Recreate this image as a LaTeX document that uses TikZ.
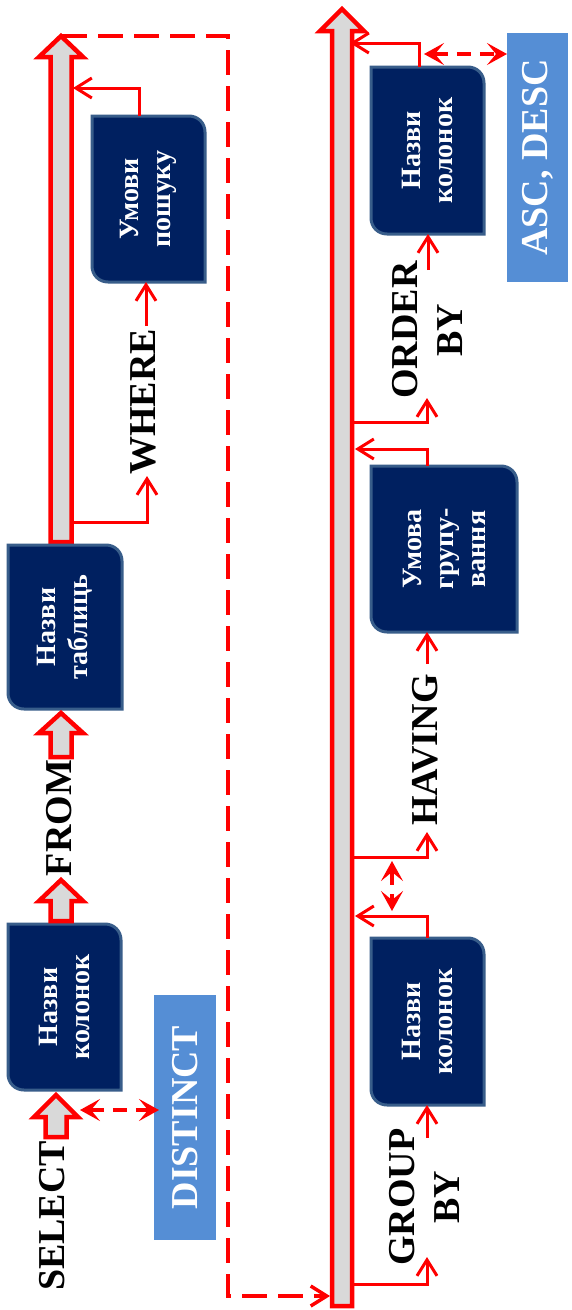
\documentclass[tikz,border=0pt]{standalone}
\usepackage{fontspec}
\setmainfont{Liberation Serif}
\usetikzlibrary{arrows.meta,calc,fit}
\definecolor{navy}{HTML}{002060}
\definecolor{navyedge}{HTML}{385D8A}
\definecolor{skyb}{HTML}{558ED5}
\definecolor{barfill}{HTML}{D9D9D9}
\definecolor{myred}{HTML}{FF0000}
% block (hollow) arrow pointing up: cx, tip y, head base y, bottom y, head half width, body half width
\newcommand\blockarr[6]{%
  \draw[barline] (#1,#2) -- ({#1+#5},#3) -- ({#1+#6},#3) -- ({#1+#6},#4) -- ({#1-#6},#4) -- ({#1-#6},#3) -- ({#1-#5},#3) -- cycle;}
% dark box with two diagonal rounded corners: name, x1,y1,x2,y2,text
\newcommand\dgbox[6]{%
  \draw[boxline] (#2,#3) -- ({#4-16},#3) .. controls ({#4-7},#3) and (#4,{#3+7}) .. (#4,{#3+16}) -- (#4,#5) -- ({#2+16},#5) .. controls ({#2+7},#5) and (#2,{#5-7}) .. (#2,{#5-16}) -- cycle;
  \node[frame, fit={(#2,#3) (#4,#5)}] (#1) {};
  \node[btext] (#1-t) at (#1.center) {#6};}
\begin{document}
\begin{tikzpicture}[x=1pt,y=-1pt,
  conn/.style={draw=myred, line width=3pt, -{Straight Barb[length=16pt,width=20pt]}},
  dashdbl/.style={draw=myred, line width=3.5pt, dash pattern=on 14pt off 9pt,
     {Stealth[length=20pt,width=22pt,inset=9pt]}-{Stealth[length=20pt,width=22pt,inset=9pt]}},
  longdash/.style={draw=myred, line width=3.5pt, dash pattern=on 25pt off 11pt,
     -{Straight Barb[length=16pt,width=20pt]}},
  barline/.style={draw=myred, fill=barfill, line width=4.5pt, line join=miter},
  boxline/.style={draw=navyedge, fill=navy, line width=3pt},
  kw/.style={font=\fontsize{38}{45}\selectfont\bfseries, inner sep=0pt, align=center, rotate=90},
  btext/.style={font=\fontsize{28}{32}\selectfont\bfseries, text=white, inner sep=0pt, align=center, rotate=90},
  frame/.style={inner sep=0pt, outer sep=0pt},
  lbox/.style={inner sep=0pt, outer sep=0pt, fill=skyb},
  ltext/.style={font=\fontsize{38}{44}\selectfont\bfseries, text=white, inner sep=0pt, rotate=90}
]
\fill[white] (0,0) rectangle (571,1310);
\useasboundingbox (0,0) rectangle (571,1310);

% ---------- long dashed return line ----------
\coordinate (ldA) at (62,36);
\coordinate (ldB) at (228,36);
\coordinate (ldC) at (228,1296);
\coordinate (ldD) at (330,1296);
\draw[longdash] (ldA) -- (ldB) -- (ldC) -- (ldD);

% ---------- left column ----------
\blockarr{61}{36}{57}{542}{22}{10.5}
\dgbox{t1}{8}{545}{122}{709}{Назви\\таблиць}
\dgbox{w1}{92}{116}{205}{282}{Умови\\пошуку}
\dgbox{c1}{8}{924}{121}{1090}{Назви\\колонок}
\blockarr{61}{713}{733}{757}{22}{10.5}
\blockarr{61}{880}{901}{921}{22}{10.5}
\blockarr{56}{1095}{1117}{1137}{22}{10.5}

\node[kw] (sel) at (52,1216) {SELECT};
\node[kw] (from) at (59,818) {FROM};
\node[kw] (where) at (143,402) {WHERE};

\node[lbox, fit={(154,995) (216,1240)}] (dst) {};
\node[ltext] (dst-t) at (dst.center) {DISTINCT};

\coordinate (bL1) at (71.5,522);
\coordinate (wh1) at (147,476);
\draw[conn] (bL1) -| (wh1);
\coordinate (wh2) at (146,326);
\draw[conn] (wh2) -- (wh2 |- w1.south);
\coordinate (w1o) at (139,116);
\coordinate (bL2) at (73,88);
\draw[conn] (w1o) |- (bL2);

\coordinate (sd) at (80,1110);
\draw[dashdbl] (sd) -- ($(sd -| dst.west)+(5,0)$);

% ---------- right column ----------
\blockarr{342}{9}{31}{1306}{22}{10}
\dgbox{c2}{371}{67}{484}{234}{Назви\\колонок}
\dgbox{g1}{371}{466}{517}{632}{Умова\\групу-\\вання}
\dgbox{c3}{371}{938}{484}{1105}{Назви\\колонок}

\node[kw] (ordby) at (427,330) {ORDER\\BY};
\node[kw] (hav) at (425,750) {HAVING};
\node[kw] (grpby) at (424,1197) {GROUP\\BY};

\node[lbox, fit={(507,33) (568,282)}] (asc) {};
\node[ltext] (asc-t) at (asc.center) {ASC, DESC};

\coordinate (bR1) at (352,1284);
\coordinate (gb) at (427,1257);
\draw[conn] (bR1) -| (gb);
\coordinate (gb2) at (427,1138);
\draw[conn] (gb2) -- (gb2 |- c3.south);
\coordinate (bR2) at (355,916);
\draw[conn] (c3.north) |- (bR2);
\coordinate (dA) at (392,861);
\coordinate (dB) at (392,911);
\draw[dashdbl] (dA) -- (dB);
\coordinate (bR3) at (352,857);
\coordinate (hv) at (427,832);
\draw[conn] (bR3) -| (hv);
\coordinate (hv2) at (427,664);
\draw[conn] (hv2) -- (hv2 |- g1.south);
\coordinate (g1o) at (427,466);
\coordinate (bR4) at (355,449);
\draw[conn] (g1o) |- (bR4);
\coordinate (bR5) at (352,422);
\coordinate (ob) at (427,398);
\draw[conn] (bR5) -| (ob);
\coordinate (ob2) at (428,270);
\draw[conn] (ob2) -- (ob2 |- c2.south);
\coordinate (c2o) at (419,67);
\coordinate (bR6) at (350,43);
\draw[conn] (c2o) |- (bR6);
\coordinate (ad) at (424,54);
\draw[dashdbl] (ad) -- (ad -| asc.west);
\end{tikzpicture}
\end{document}
